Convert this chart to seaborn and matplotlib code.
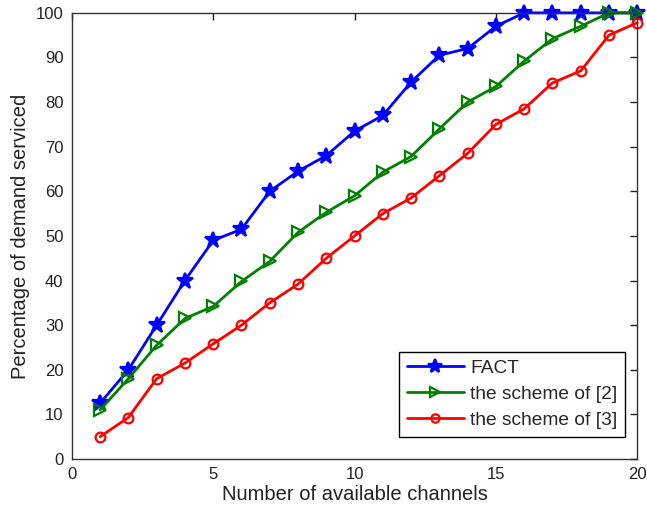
import matplotlib
matplotlib.use("Agg")
import matplotlib.pyplot as plt
import seaborn as sns
import pandas as pd

channels = list(range(1, 21))
fact = [12.5, 20, 30, 40, 49, 51.5, 60, 64.5, 68, 73.5, 77, 84.5, 90.5, 92, 97, 100, 100, 100, 100, 100]
scheme2 = [11, 18, 25.5, 31.5, 34.2, 39.8, 44.3, 50.8, 55.3, 59, 64.3, 67.8, 74, 80, 83.5, 89.2, 94.2, 97, 100, 100]
scheme3 = [5, 9.3, 18, 21.5, 25.8, 30, 35, 39.2, 45, 50, 55, 58.5, 63.5, 68.5, 75, 78.5, 84.3, 87, 95, 97.8]
series_names = ["FACT", "the scheme of [2]", "the scheme of [3]"]
colors = ["#0000ff", "#008000", "#ff0000"]

sns.set_theme(style="white")
plt.rcParams["font.family"] = ["Liberation Sans", "DejaVu Sans"]

df = pd.DataFrame({
    "channels": channels * 3,
    "value": fact + scheme2 + scheme3,
    "series": [series_names[0]] * 20 + [series_names[1]] * 20 + [series_names[2]] * 20,
})

fig = plt.figure(figsize=(6.47, 5.14), dpi=100)
ax = fig.add_axes([0.111, 0.107, 0.874, 0.868])

markers = {"FACT": "*", "the scheme of [2]": ">", "the scheme of [3]": "o"}
sizes = {"FACT": 12, "the scheme of [2]": 8, "the scheme of [3]": 7}
for name, col in zip(series_names, colors):
    sub = df[df["series"] == name]
    mfc = col if name == "FACT" else "none"
    sns.lineplot(data=sub, x="channels", y="value", ax=ax, color=col, linewidth=2,
                 marker=markers[name], markersize=sizes[name], markerfacecolor=mfc,
                 markeredgecolor=col, markeredgewidth=1.6, label=name)
for line in ax.lines:
    line.set_clip_on(False)

ax.set_xlim(0, 20)
ax.set_ylim(0, 100)
ax.set_xticks([0, 5, 10, 15, 20])
ax.set_yticks(range(0, 101, 10))
ax.tick_params(direction="in", length=5, width=1, top=True, right=True,
               labelsize=12, colors="#222222", pad=6)
for s in ax.spines.values():
    s.set_color("#333333")
    s.set_linewidth(1)
ax.set_xlabel("Number of available channels", fontsize=14.5, color="#222222", labelpad=2)
ax.set_ylabel("Percentage of demand serviced", fontsize=14.5, color="#222222", labelpad=4)

leg = ax.legend(loc="lower right", bbox_to_anchor=(0.978, 0.05), fontsize=13.8,
                frameon=True, fancybox=False, edgecolor="black", framealpha=1,
                borderpad=0.4, handlelength=3.0, labelspacing=0.45, handletextpad=0.3,
                borderaxespad=0)
leg.get_frame().set_linewidth(1)
for h, ms in zip(leg.legend_handles, [10, 7, 6]):
    h.set_markersize(ms)

fig.savefig("out.png", dpi=100)
